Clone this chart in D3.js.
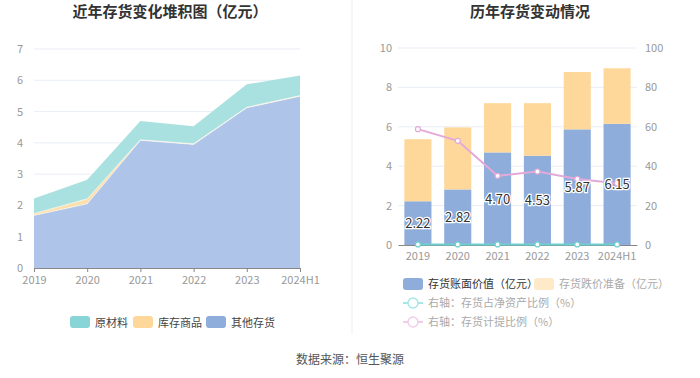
<!DOCTYPE html>
<meta charset="utf-8">
<style>
body { margin: 0; background: #fff; font-family: "Noto Sans CJK SC", "Noto Sans", sans-serif; }
text { font-family: "Noto Sans CJK SC", "Noto Sans", sans-serif; }
</style>
<body>
<div id="chart"></div>
<script src="https://d3js.org/d3.v7.min.js"></script>
<script>

var years = ["2019", "2020", "2021", "2022", "2023", "2024H1"];

// left: stacked inventory (亿元)
var otherStock = [1.68, 2.05, 4.08, 3.95, 5.12, 5.49];
var goodsStock = [0.06, 0.16, 0.02, 0.02, 0.02, 0.02];
var rawStock = [0.48, 0.61, 0.60, 0.56, 0.73, 0.64];

// right: book value, provision, ratios
var bookValue = [2.22, 2.82, 4.70, 4.53, 5.87, 6.15];
var provision = [3.15, 3.15, 2.50, 2.67, 2.91, 2.82];
var netAssetRatio = [0.3, 0.3, 0.3, 0.3, 0.3, 0.3];
var provisionRatio = [58.8, 52.9, 35.1, 37.3, 33.5, 31.4];

var leftTicks = [0, 1, 2, 3, 4, 5, 6, 7];
var rightTicksL = [0, 2, 4, 6, 8, 10];
var rightTicksR = [0, 20, 40, 60, 80, 100];

var W = 700, H = 378;
var svg = d3.select("#chart").append("svg").attr("width", W).attr("height", H);

var axisColor = "#999", gridColor = "#e9edf6";

// titles
svg.append("text").attr("x", 170).attr("y", 17).attr("text-anchor", "middle")
  .style("font-size", "15px").style("font-weight", "bold").attr("fill", "#333")
  .text("近年存货变化堆积图（亿元）");
svg.append("text").attr("x", 530).attr("y", 17).attr("text-anchor", "middle")
  .style("font-size", "15px").style("font-weight", "bold").attr("fill", "#333")
  .text("历年存货变动情况");

// divider
svg.append("line").attr("x1", 352).attr("x2", 352).attr("y1", 0).attr("y2", 334)
  .attr("stroke", "#eee");

// ---------- left stacked area ----------
var x1 = d3.scalePoint().domain(years).range([34, 300]);
var y1 = d3.scaleLinear().domain([0, 7]).range([268, 49]);

var g1 = svg.append("g");
g1.selectAll(".grid").data(leftTicks.slice(1)).enter().append("line")
  .attr("x1", 34).attr("x2", 300).attr("y1", d => y1(d)).attr("y2", d => y1(d))
  .attr("stroke", gridColor);

var rows = years.map((y, i) => ({ year: y, other: otherStock[i], goods: goodsStock[i], raw: rawStock[i] }));
var stack = d3.stack().keys(["other", "goods", "raw"])(rows);
var areaColors = { other: "#aec4e8", goods: "#fde0b0", raw: "#a9e1e0" };
var area = d3.area().x(d => x1(d.data.year)).y0(d => y1(d[0])).y1(d => y1(d[1]));
g1.selectAll(".area").data(stack).enter().append("path")
  .attr("d", area).attr("fill", d => areaColors[d.key]);
// thin white line on top of each layer
g1.selectAll(".edge").data(stack.slice(0, 2)).enter().append("path")
  .attr("d", d3.line().x(d => x1(d.data.year)).y(d => y1(d[1])))
  .attr("fill", "none").attr("stroke", "#fff").attr("stroke-opacity", 0.6).attr("stroke-width", 0.8);

var ax1 = g1.append("g").attr("transform", "translate(0,268)")
  .call(d3.axisBottom(x1).tickSize(4).tickPadding(4));
ax1.select(".domain").attr("stroke", "#888");
ax1.selectAll("line").attr("stroke", "#888");
ax1.selectAll("text").attr("fill", axisColor).style("font-size", "11px");

g1.selectAll(".ylab").data(leftTicks).enter().append("text")
  .attr("x", 23).attr("y", d => y1(d) + 4).attr("text-anchor", "end")
  .attr("fill", axisColor).style("font-size", "11px").text(d => d);

// left legend
var leg1 = [["原材料", "#88d5d8", 70], ["库存商品", "#fed89a", 133], ["其他存货", "#8eaddb", 206]];
leg1.forEach(function (l) {
  svg.append("rect").attr("x", l[2]).attr("y", 316).attr("width", 20).attr("height", 12)
    .attr("rx", 3).attr("fill", l[1]);
  svg.append("text").attr("x", l[2] + 25).attr("y", 326.5).attr("fill", "#444")
    .style("font-size", "11px").text(l[0]);
});

// ---------- right bars + lines ----------
var x2 = d3.scaleBand().domain(years).range([398, 637]).paddingInner(0.32).paddingOuter(0.16);
var y2 = d3.scaleLinear().domain([0, 10]).range([245, 48]);
var y2r = d3.scaleLinear().domain([0, 100]).range([245, 48]);

var g2 = svg.append("g");
g2.selectAll(".grid").data(rightTicksL.slice(1)).enter().append("line")
  .attr("x1", 398).attr("x2", 637).attr("y1", d => y2(d)).attr("y2", d => y2(d))
  .attr("stroke", gridColor);

g2.selectAll(".book").data(years).enter().append("rect")
  .attr("x", d => x2(d)).attr("width", x2.bandwidth())
  .attr("y", (d, i) => y2(bookValue[i])).attr("height", (d, i) => y2(0) - y2(bookValue[i]))
  .attr("fill", "#8eaddb");
g2.selectAll(".prov").data(years).enter().append("rect")
  .attr("x", d => x2(d)).attr("width", x2.bandwidth())
  .attr("y", (d, i) => y2(bookValue[i] + provision[i]))
  .attr("height", (d, i) => y2(bookValue[i]) - y2(bookValue[i] + provision[i]))
  .attr("fill", "#fed89a");

var ax2 = g2.append("g").attr("transform", "translate(0,245)")
  .call(d3.axisBottom(x2).tickSize(0).tickPadding(7));
ax2.select(".domain").attr("stroke", "#888");
ax2.selectAll("text").attr("fill", axisColor).style("font-size", "11px");

g2.selectAll(".ylabL").data(rightTicksL).enter().append("text")
  .attr("x", 392).attr("y", d => y2(d) + 4).attr("text-anchor", "end")
  .attr("fill", axisColor).style("font-size", "11px").text(d => d);
g2.selectAll(".ylabR").data(rightTicksR).enter().append("text")
  .attr("x", 645).attr("y", d => y2r(d) + 4)
  .attr("fill", axisColor).style("font-size", "11px").text(d => d);

var cx = d => x2(d) + x2.bandwidth() / 2;
function drawLine(vals, color) {
  g2.append("path").datum(vals)
    .attr("d", d3.line().x((v, i) => cx(years[i])).y(v => y2r(v)))
    .attr("fill", "none").attr("stroke", color).attr("stroke-width", 2);
  g2.selectAll(null).data(vals).enter().append("circle")
    .attr("cx", (v, i) => cx(years[i])).attr("cy", v => y2r(v)).attr("r", 2.5)
    .attr("fill", "#fff").attr("stroke", color).attr("stroke-width", 1.2);
}
drawLine(provisionRatio, "#e4a9d9");
drawLine(netAssetRatio, "#6dd0d0");

// bar labels
g2.selectAll(".lab").data(years).enter().append("text")
  .attr("x", d => cx(d)).attr("y", (d, i) => y2(bookValue[i] / 2) + 5)
  .attr("text-anchor", "middle").style("font-size", "13px")
  .attr("fill", "#333").attr("stroke", "#fff").attr("stroke-width", 2.5)
  .attr("paint-order", "stroke")
  .text((d, i) => bookValue[i].toFixed(2));

// right legend
svg.append("rect").attr("x", 403).attr("y", 278).attr("width", 20).attr("height", 12)
  .attr("rx", 3).attr("fill", "#8eaddb");
svg.append("text").attr("x", 428).attr("y", 288).attr("fill", "#333")
  .style("font-size", "11px").text("存货账面价值（亿元）");
svg.append("rect").attr("x", 534).attr("y", 278).attr("width", 20).attr("height", 12)
  .attr("rx", 3).attr("fill", "#feeac8");
svg.append("text").attr("x", 559).attr("y", 288).attr("fill", "#aaa")
  .style("font-size", "11px").text("存货跌价准备（亿元）");

var leg2 = [["右轴：存货占净资产比例（%）", "#a6e6e6", 303], ["右轴：存货计提比例（%）", "#f1cde9", 322]];
leg2.forEach(function (l) {
  svg.append("line").attr("x1", 403).attr("x2", 423).attr("y1", l[2]).attr("y2", l[2])
    .attr("stroke", l[1]).attr("stroke-width", 2);
  svg.append("circle").attr("cx", 413).attr("cy", l[2]).attr("r", 5)
    .attr("fill", "#fff").attr("stroke", l[1]).attr("stroke-width", 1.5);
  svg.append("text").attr("x", 428).attr("y", l[2] + 4).attr("fill", "#aaa")
    .style("font-size", "11px").text(l[0]);
});

// footer
svg.append("text").attr("x", 350).attr("y", 364).attr("text-anchor", "middle")
  .attr("fill", "#555").style("font-size", "12px").text("数据来源：恒生聚源");

</script>
</body>
